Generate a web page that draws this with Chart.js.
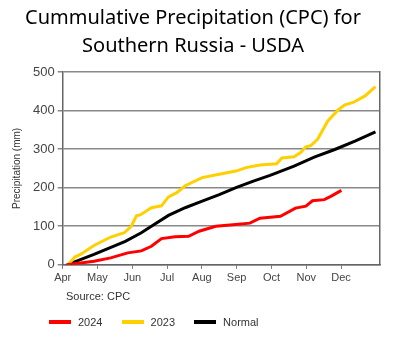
<!DOCTYPE html>
<html>
<head>
<meta charset="utf-8">
<script src="https://cdn.jsdelivr.net/npm/chart.js@4"></script>
<style>
  html, body { margin: 0; padding: 0; background: #fff; }
  #wrap { position: relative; width: 400px; height: 337px; }
  #source { position: absolute; left: 66px; top: 290px; font: 11px "Liberation Sans", Arial, sans-serif; color: #333; }
  #legend { position: absolute; left: 49px; top: 316px; font: 11px "Liberation Sans", Arial, sans-serif; color: #333; white-space: nowrap; }
  #legend span.item { display: inline-block; margin-right: 16px; }
  #legend span.line { display: inline-block; width: 22px; height: 4px; vertical-align: middle; margin-right: 7px; position: relative; top: -1px; }
</style>
</head>
<body>
<div id="wrap">
  <canvas id="precipChart" width="400" height="337"></canvas>
  <div id="source">Source: CPC</div>
  <div id="legend">
    <span class="item"><span class="line" style="background:#ff0000"></span>2024</span>
    <span class="item"><span class="line" style="background:#ffd000"></span>2023</span>
    <span class="item"><span class="line" style="background:#000000"></span>Normal</span>
  </div>
</div>
<script>
// x values are months since 1 April (0 = Apr, 8 = Dec)
const monthLabels = ['Apr', 'May', 'Jun', 'Jul', 'Aug', 'Sep', 'Oct', 'Nov', 'Dec'];
const yTicks = [0, 100, 200, 300, 400, 500];

const t2024 = [0.12, 0.9, 1.38, 1.87, 2.26, 2.55, 2.84, 3.23, 3.62, 3.92, 4.4, 4.89, 5.38, 5.67, 6.26, 6.69, 6.99, 7.18, 7.52, 7.72, 8.01];
const p2024 = [0, 9, 18, 31, 36, 48, 68, 73, 74, 87, 100, 104, 108, 121, 126, 147, 152, 166, 169, 178, 193];

const t2023 = [0.15, 0.35, 0.51, 0.9, 1.38, 1.77, 1.97, 2.12, 2.24, 2.55, 2.84, 3.04, 3.28, 3.52, 4.01, 4.5, 4.98, 5.27, 5.67, 6.15, 6.3, 6.65, 6.84, 6.99, 7.13, 7.33, 7.62, 7.91, 8.11, 8.35, 8.69, 8.99];
const p2023 = [0, 20, 27, 50, 72, 83, 100, 127, 130, 148, 153, 176, 187, 205, 226, 235, 243, 252, 259, 262, 277, 280, 291, 306, 309, 326, 373, 401, 415, 421, 438, 462];

const tNormal = [0.12, 0.9, 1.8, 2.26, 2.55, 3.04, 3.52, 4.01, 4.5, 4.98, 5.48, 5.96, 6.65, 7.23, 7.82, 8.4, 8.99];
const pNormal = [0, 27, 61, 83, 100, 128, 148, 165, 182, 200, 217, 232, 256, 279, 299, 321, 345];

function toPoints(xs, ys) {
    return xs.map((x, i) => ({ x: x, y: ys[i] }));
}

const tickFont = { family: '"Liberation Sans", Arial, sans-serif', size: 13 };

document.addEventListener('DOMContentLoaded', () => {
    const ctx = document.getElementById('precipChart').getContext('2d');
    new Chart(ctx, {
        type: 'line',
        data: {
            datasets: [
                { label: '2024', data: toPoints(t2024, p2024), borderColor: '#ff0000', borderWidth: 3, pointRadius: 0, tension: 0, order: 1 },
                { label: '2023', data: toPoints(t2023, p2023), borderColor: '#ffd000', borderWidth: 3, pointRadius: 0, tension: 0, order: 2 },
                { label: 'Normal', data: toPoints(tNormal, pNormal), borderColor: '#000000', borderWidth: 3, pointRadius: 0, tension: 0, order: 3 }
            ]
        },
        options: {
            responsive: false,
            animation: false,
            layout: { padding: { left: 6, right: 20, top: 0, bottom: 49 } },
            plugins: {
                legend: { display: false },
                tooltip: { enabled: false },
                title: {
                    display: true,
                    text: ['Cummulative Precipitation (CPC) for', 'Southern Russia - USDA'],
                    color: '#000',
                    font: { family: '"Noto Sans", sans-serif', size: 20, weight: 'normal', lineHeight: 1.4 },
                    padding: { top: 4, bottom: 12 }
                }
            },
            scales: {
                x: {
                    type: 'linear',
                    min: 0,
                    max: 9.12,
                    afterBuildTicks: axis => {
                        axis.ticks = monthLabels.map((m, i) => ({ value: i }));
                    },
                    ticks: {
                        callback: v => monthLabels[v],
                        color: '#444',
                        font: { family: tickFont.family, size: 11 },
                        padding: 3,
                        maxRotation: 0,
                        autoSkip: false
                    },
                    grid: { drawOnChartArea: false, drawTicks: true, tickLength: 4, color: '#777', lineWidth: 1 },
                    border: { color: '#666', width: 1.5 }
                },
                y: {
                    min: 0,
                    max: 500,
                    afterBuildTicks: axis => {
                        axis.ticks = yTicks.map(v => ({ value: v }));
                    },
                    ticks: { color: '#444', font: tickFont, padding: 3 },
                    grid: { color: '#888', lineWidth: 1.5, tickLength: 5 },
                    border: { color: '#666', width: 1.5 },
                    title: {
                        display: true,
                        text: 'Precipitation (mm)',
                        color: '#333',
                        font: { family: tickFont.family, size: 10 },
                        padding: { top: 5, bottom: 7 }
                    }
                },
                yRight: {
                    position: 'right',
                    min: 0,
                    max: 500,
                    ticks: { display: false },
                    grid: { display: false, drawTicks: false },
                    border: { display: true, color: '#666', width: 1.5 }
                }
            }
        }
    });
});
</script>
</body>
</html>
